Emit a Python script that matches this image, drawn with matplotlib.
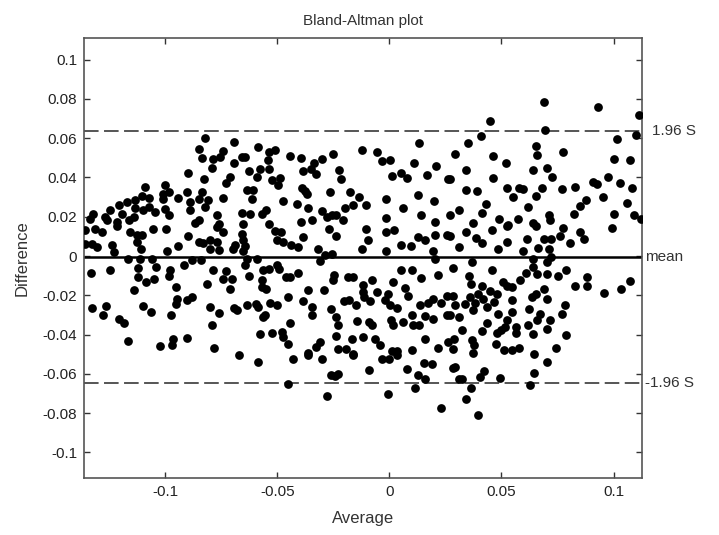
import matplotlib
matplotlib.use('Agg')
import matplotlib.pyplot as plt
import numpy as np

plt.rcParams['font.family'] = ['Liberation Sans', 'DejaVu Sans']

# (average, difference) pairs, grouped by region
upper_left = [
    (-0.0822, 0.0600), (-0.0695, 0.0580), (-0.0851, 0.0546), (-0.0584, 0.0555), (-0.0740, 0.0534),
    (-0.0837, 0.0500), (-0.0785, 0.0495), (-0.0755, 0.0504), (-0.0658, 0.0504), (-0.0643, 0.0504),
    (-0.0695, 0.0473), (-0.0792, 0.0448), (-0.0577, 0.0444), (-0.0624, 0.0431), (-0.0896, 0.0422),
    (-0.0710, 0.0402), (-0.0591, 0.0402), (-0.0826, 0.0390), (-0.0728, 0.0371), (-0.1089, 0.0351),
    (-0.1000, 0.0360), (-0.1010, 0.0317), (-0.0981, 0.0326), (-0.0903, 0.0326), (-0.0941, 0.0297),
    (-0.1008, 0.0292), (-0.0837, 0.0326), (-0.0851, 0.0292), (-0.0807, 0.0287), (-0.0740, 0.0297),
    (-0.0636, 0.0337), (-0.0609, 0.0334), (-0.0614, 0.0292), (-0.1104, 0.0304), (-0.1074, 0.0297),
    (-0.1134, 0.0287), (-0.1171, 0.0275), (-0.1208, 0.0258), (-0.1245, 0.0236), (-0.1320, 0.0212),
    (-0.1334, 0.0190), (-0.1268, 0.0198), (-0.1193, 0.0215), (-0.1134, 0.0246), (-0.1097, 0.0236),
    (-0.1074, 0.0249), (-0.1045, 0.0224), (-0.1000, 0.0241), (-0.0985, 0.0207), (-0.0889, 0.0275),
    (-0.0889, 0.0236), (-0.0822, 0.0249), (-0.1141, 0.0198), (-0.1159, 0.0181), (-0.1216, 0.0173),
    (-0.1260, 0.0181), (-0.0851, 0.0181), (-0.0866, 0.0168), (-0.0770, 0.0207), (-0.0658, 0.0219),
    (-0.0621, 0.0215), (-0.0569, 0.0215), (-0.0651, 0.0164), (-0.0762, 0.0161),
]

upper_mid = [
    (-0.0510, 0.0541), (-0.0537, 0.0529), (-0.0540, 0.0487), (-0.0537, 0.0444), (-0.0444, 0.0507),
    (-0.0395, 0.0500), (-0.0335, 0.0473), (-0.0302, 0.0495), (-0.0250, 0.0517), (-0.0124, 0.0541),
    (-0.0057, 0.0529), (-0.0035, 0.0483), (0.0002, 0.0487), (0.0132, 0.0575), (0.0111, 0.0475),
    (0.0210, 0.0458), (-0.0384, 0.0432), (-0.0350, 0.0444), (-0.0325, 0.0419), (-0.0225, 0.0439),
    (-0.0216, 0.0393), (-0.0522, 0.0388), (-0.0488, 0.0398), (-0.0496, 0.0360), (0.0010, 0.0405),
    (0.0051, 0.0424), (0.0077, 0.0397), (0.0170, 0.0410), (0.0262, 0.0390), (-0.0389, 0.0348),
    (-0.0369, 0.0317), (-0.0377, 0.0331), (-0.0265, 0.0326), (-0.0176, 0.0326), (-0.0136, 0.0300),
    (-0.0473, 0.0280), (-0.0414, 0.0266), (-0.0362, 0.0246), (-0.0299, 0.0229), (-0.0198, 0.0246),
    (-0.0161, 0.0258), (-0.0102, 0.0258), (-0.0017, 0.0292), (0.0126, 0.0312), (0.0200, 0.0280),
    (0.0062, 0.0246), (-0.0548, 0.0232), (-0.0280, 0.0198), (-0.0258, 0.0207), (-0.0236, 0.0207),
    (-0.0206, 0.0185), (-0.0347, 0.0185), (-0.0395, 0.0173), (-0.0537, 0.0164), (-0.0017, 0.0195),
    (0.0143, 0.0207), (0.0203, 0.0173),
]

upper_right = [
    (0.0691, 0.0784), (0.0931, 0.0759), (0.1114, 0.0720), (0.0448, 0.0686), (0.0694, 0.0640),
    (0.0407, 0.0611), (0.1102, 0.0614), (0.1016, 0.0594), (0.0352, 0.0575), (0.0292, 0.0521),
    (0.0656, 0.0560), (0.0659, 0.0516), (0.0775, 0.0528), (0.0460, 0.0508), (0.0520, 0.0475),
    (0.1003, 0.0494), (0.1075, 0.0491), (0.0344, 0.0436), (0.0639, 0.0440), (0.0705, 0.0450),
    (0.0726, 0.0402), (0.0463, 0.0397), (0.0270, 0.0391), (0.0909, 0.0377), (0.0924, 0.0365),
    (0.0976, 0.0402), (0.1028, 0.0372), (0.0341, 0.0338), (0.0392, 0.0331), (0.0523, 0.0345),
    (0.0552, 0.0301), (0.0578, 0.0346), (0.0594, 0.0340), (0.0679, 0.0346), (0.0653, 0.0306),
    (0.0771, 0.0340), (0.0827, 0.0352), (0.0879, 0.0284), (0.0850, 0.0253), (0.0954, 0.0301),
    (0.1084, 0.0346), (0.1058, 0.0272), (0.0430, 0.0267), (0.0619, 0.0250), (0.0312, 0.0233),
    (0.0270, 0.0211), (0.0414, 0.0219), (0.0374, 0.0168), (0.0490, 0.0187), (0.0575, 0.0187),
    (0.0530, 0.0160), (0.0713, 0.0207), (0.0716, 0.0185), (0.0639, 0.0168), (0.0823, 0.0212),
    (0.1003, 0.0212), (0.1090, 0.0207), (0.1124, 0.0190),
]

lower_left = [
    (-0.1357, 0.0131), (-0.1312, 0.0139), (-0.1282, 0.0122), (-0.1216, 0.0153), (-0.1156, 0.0122),
    (-0.1126, 0.0109), (-0.1104, 0.0105), (-0.1055, 0.0139), (-0.0998, 0.0139), (-0.1357, 0.0063),
    (-0.1327, 0.0063), (-0.1305, 0.0046), (-0.1238, 0.0054), (-0.1230, 0.0020), (-0.1126, 0.0071),
    (-0.1109, 0.0037), (-0.0993, 0.0024), (-0.0941, 0.0051), (-0.0896, 0.0102), (-0.0851, 0.0071),
    (-0.0829, 0.0068), (-0.0799, 0.0080), (-0.0802, 0.0037), (-0.0770, 0.0071), (-0.0762, 0.0029),
    (-0.0740, 0.0122), (-0.0767, 0.0148), (-0.0698, 0.0037), (-0.0688, 0.0054), (-0.0658, 0.0114),
    (-0.0651, 0.0080), (-0.0643, 0.0051), (-0.0654, 0.0024), (-0.1164, -0.0014), (-0.1112, -0.0014),
    (-0.1060, -0.0014), (-0.0636, -0.0014), (-0.0591, -0.0014), (-0.1123, -0.0061), (-0.1040, -0.0056),
    (-0.1330, -0.0087), (-0.1245, -0.0073), (-0.1123, -0.0107), (-0.1085, -0.0132), (-0.1049, -0.0119),
    (-0.0978, -0.0073), (-0.0981, -0.0102), (-0.0918, -0.0044), (-0.0881, -0.0022), (-0.0841, -0.0022),
    (-0.0785, -0.0073), (-0.0728, -0.0078), (-0.0740, -0.0115), (-0.0703, -0.0115), (-0.0710, -0.0166),
    (-0.0814, -0.0141), (-0.0643, -0.0044), (-0.0624, -0.0102), (-0.0562, -0.0073), (-0.0569, -0.0124),
    (-0.0569, -0.0158), (-0.1141, -0.0171), (-0.0951, -0.0158), (-0.0948, -0.0220), (-0.0951, -0.0243),
    (-0.0901, -0.0226), (-0.0881, -0.0209), (-0.1327, -0.0265), (-0.1263, -0.0256), (-0.1275, -0.0302),
    (-0.1208, -0.0322), (-0.1183, -0.0339), (-0.1097, -0.0256), (-0.1062, -0.0285), (-0.0975, -0.0299),
    (-0.0802, -0.0260), (-0.0758, -0.0290), (-0.0792, -0.0349), (-0.0695, -0.0265), (-0.0678, -0.0277),
    (-0.0636, -0.0251), (-0.0594, -0.0243), (-0.0584, -0.0260), (-0.0565, -0.0310), (-0.1164, -0.0434),
    (-0.1022, -0.0460), (-0.0970, -0.0451), (-0.0963, -0.0421), (-0.0901, -0.0416), (-0.0782, -0.0468),
    (-0.0669, -0.0502), (-0.0584, -0.0539), (-0.0579, -0.0395),
]

lower_mid = [
    (-0.0510, 0.0125), (-0.0484, 0.0122), (-0.0499, 0.0080), (-0.0473, 0.0071), (-0.0439, 0.0054),
    (-0.0406, 0.0046), (-0.0384, 0.0097), (-0.0270, 0.0139), (-0.0236, 0.0102), (-0.0102, 0.0139),
    (-0.0097, 0.0080), (-0.0121, 0.0037), (-0.0013, 0.0122), (0.0022, 0.0131), (-0.0017, 0.0024),
    (0.0051, 0.0058), (0.0096, 0.0051), (0.0129, 0.0097), (0.0158, 0.0080), (0.0203, 0.0105),
    (0.0259, 0.0105), (0.0195, 0.0024), (0.0203, -0.0014), (-0.0317, 0.0037), (-0.0288, 0.0007),
    (-0.0258, 0.0012), (-0.0310, -0.0027), (-0.0537, -0.0064), (-0.0503, -0.0048), (-0.0493, -0.0064),
    (-0.0463, -0.0107), (-0.0444, -0.0107), (-0.0409, -0.0087), (-0.0246, -0.0095), (-0.0250, -0.0124),
    (-0.0186, -0.0107), (-0.0161, -0.0107), (-0.0077, -0.0124), (0.0054, -0.0073), (0.0099, -0.0073),
    (0.0143, -0.0112), (0.0218, -0.0095), (-0.0548, -0.0166), (-0.0362, -0.0175), (-0.0290, -0.0175),
    (-0.0117, -0.0149), (-0.0117, -0.0183), (-0.0112, -0.0209), (-0.0057, -0.0183), (0.0017, -0.0132),
    (0.0069, -0.0163), (-0.0005, -0.0192), (0.0081, -0.0204), (-0.0020, -0.0226), (-0.0454, -0.0209),
    (-0.0533, -0.0238), (-0.0499, -0.0248), (-0.0384, -0.0231), (-0.0347, -0.0260), (-0.0261, -0.0268),
    (-0.0201, -0.0231), (-0.0180, -0.0226), (-0.0151, -0.0251), (-0.0087, -0.0231), (0.0002, -0.0248),
    (0.0032, -0.0265), (0.0136, -0.0248), (0.0173, -0.0238), (0.0195, -0.0221), (0.0229, -0.0238),
    (0.0259, -0.0204), (-0.0555, -0.0302), (-0.0344, -0.0302), (-0.0240, -0.0310), (-0.0444, -0.0339),
    (-0.0231, -0.0353), (-0.0146, -0.0332), (-0.0091, -0.0336), (-0.0077, -0.0353), (0.0007, -0.0327),
    (0.0017, -0.0349), (0.0062, -0.0336), (0.0099, -0.0299), (0.0106, -0.0353), (0.0132, -0.0349),
    (0.0158, -0.0305), (0.0195, -0.0322), (0.0259, -0.0299), (-0.0525, -0.0390), (-0.0481, -0.0387),
    (-0.0473, -0.0412), (-0.0451, -0.0446), (-0.0236, -0.0407), (-0.0166, -0.0421), (-0.0117, -0.0412),
    (-0.0065, -0.0421), (-0.0042, -0.0451), (-0.0310, -0.0438), (-0.0325, -0.0463), (-0.0362, -0.0492),
    (-0.0231, -0.0471), (-0.0195, -0.0471), (-0.0161, -0.0497), (0.0158, -0.0421), (0.0218, -0.0468),
    (0.0010, -0.0485), (0.0032, -0.0485), (0.0099, -0.0480), (0.0262, -0.0438),
    (-0.0429, -0.0525), (-0.0362, -0.0505), (-0.0302, -0.0525), (-0.0161, -0.0505), (-0.0035, -0.0525),
    (-0.0002, -0.0525), (0.0032, -0.0505), (-0.0261, -0.0607), (-0.0243, -0.0610), (-0.0228, -0.0603),
    (-0.0091, -0.0581), (0.0077, -0.0573), (0.0155, -0.0542), (0.0188, -0.0552), (0.0129, -0.0607),
    (0.0161, -0.0627), (0.0285, -0.0568), (-0.0451, -0.0653), (-0.0280, -0.0712), (-0.0005, -0.0700),
    (0.0114, -0.0671), (0.0230, -0.0773),
]

lower_right = [
    (0.0341, 0.0122), (0.0456, 0.0131), (0.0526, 0.0153), (0.0653, 0.0153), (0.0775, 0.0142),
    (0.0850, 0.0122), (0.0867, 0.0088), (0.0995, 0.0142), (0.0270, 0.0102), (0.0386, 0.0092),
    (0.0411, 0.0068), (0.0312, 0.0046), (0.0485, 0.0037), (0.0523, 0.0071), (0.0615, 0.0088),
    (0.0689, 0.0085), (0.0723, 0.0085), (0.0763, 0.0102), (0.0805, 0.0068), (0.0664, 0.0041),
    (0.0713, 0.0034), (0.0597, 0.0024), (0.0639, -0.0014), (0.0723, -0.0005), (0.0704, -0.0031),
    (0.0367, -0.0031), (0.0282, -0.0061), (0.0456, -0.0073), (0.0642, -0.0056), (0.0659, -0.0090),
    (0.0701, -0.0090), (0.0753, -0.0102), (0.0787, -0.0073), (0.0882, -0.0107), (0.0882, -0.0153),
    (0.0827, -0.0153), (0.0957, -0.0187), (0.1035, -0.0170), (0.1072, -0.0129), (0.0356, -0.0102),
    (0.0362, -0.0141), (0.0411, -0.0153), (0.0505, -0.0132), (0.0523, -0.0153), (0.0549, -0.0158),
    (0.0582, -0.0124), (0.0609, -0.0085), (0.0689, -0.0166), (0.0448, -0.0180), (0.0478, -0.0192),
    (0.0396, -0.0192), (0.0359, -0.0209), (0.0381, -0.0238), (0.0337, -0.0243), (0.0419, -0.0217),
    (0.0466, -0.0234), (0.0436, -0.0260), (0.0549, -0.0226), (0.0634, -0.0209), (0.0653, -0.0192),
    (0.0701, -0.0217), (0.0292, -0.0248), (0.0374, -0.0277), (0.0270, -0.0299), (0.0312, -0.0310),
    (0.0485, -0.0293), (0.0545, -0.0285), (0.0624, -0.0271), (0.0783, -0.0251), (0.0772, -0.0293),
    (0.0674, -0.0293), (0.0659, -0.0327), (0.0716, -0.0327), (0.0436, -0.0339), (0.0526, -0.0327),
    (0.0515, -0.0361), (0.0619, -0.0349), (0.0564, -0.0361), (0.0326, -0.0378), (0.0411, -0.0383),
    (0.0500, -0.0378), (0.0481, -0.0390), (0.0564, -0.0390), (0.0642, -0.0395), (0.0701, -0.0370),
    (0.0790, -0.0400), (0.0288, -0.0421), (0.0367, -0.0429), (0.0377, -0.0451), (0.0475, -0.0446),
    (0.0511, -0.0480), (0.0545, -0.0480), (0.0579, -0.0468), (0.0742, -0.0468), (0.0282, -0.0471),
    (0.0374, -0.0492), (0.0644, -0.0497), (0.0282, -0.0204),
    (0.0292, -0.0564), (0.0310, -0.0627), (0.0325, -0.0624), (0.0423, -0.0586), (0.0403, -0.0615),
    (0.0366, -0.0671), (0.0340, -0.0729), (0.0396, -0.0810), (0.0493, -0.0620), (0.0644, -0.0593),
    (0.0626, -0.0654), (0.0705, -0.0539),
]

mean_diff = -0.0005
limit_half = 0.0639

x_ticks = [-0.1, -0.05, 0, 0.05, 0.1]
x_tick_labels = ['-0.1', '-0.05', '0', '0.05', '0.1']
y_ticks = [0.1, 0.08, 0.06, 0.04, 0.02, 0, -0.02, -0.04, -0.06, -0.08, -0.1]
y_tick_labels = ['0.1', '0.08', '0.06', '0.04', '0.02', '0',
                 '-0.02', '-0.04', '-0.06', '-0.08', '-0.1']

points = np.array(upper_left + upper_mid + upper_right + lower_left + lower_mid + lower_right)
average, difference = points[:, 0], points[:, 1]

fig = plt.figure(figsize=(7.19, 5.35), dpi=100)
ax = fig.add_axes([0.1168, 0.1065, 0.7765, 0.8225])

ax.plot(average, difference, 'o', color='black', ms=6.3, mew=0, zorder=3)
ax.axhline(mean_diff, color='black', lw=1.8, zorder=2)
for level in (mean_diff + limit_half, mean_diff - limit_half):
    ax.axhline(level, color='#555555', lw=1.4, dashes=(7.5, 2.8), zorder=2)

ax.set_xlim(-0.1362, 0.1128)
ax.set_ylim(-0.113, 0.111)
ax.set_xticks(x_ticks)
ax.set_xticklabels(x_tick_labels)
ax.set_yticks(y_ticks)
ax.set_yticklabels(y_tick_labels)
ax.tick_params(direction='in', length=4, width=1, top=True, right=True,
               labelsize=11, colors='#333333', labelcolor='#222222', pad=5)
for spine in ax.spines.values():
    spine.set_color('#555555')
    spine.set_linewidth(1.2)

trans = ax.get_yaxis_transform()
ax.text(1.018, mean_diff + limit_half, '1.96 S', transform=trans, va='center', ha='left',
        fontsize=11, color='#333333')
ax.text(1.005, mean_diff, 'mean', transform=trans, va='center', ha='left',
        fontsize=11, color='#333333')
ax.text(1.005, mean_diff - limit_half, '-1.96 S', transform=trans, va='center', ha='left',
        fontsize=11, color='#333333')

ax.set_title('Bland-Altman plot', fontsize=11, color='#333333', pad=9)
ax.set_xlabel('Average', fontsize=12, color='#333333', labelpad=9)
ax.set_ylabel('Difference', fontsize=12, color='#333333', labelpad=9)

fig.savefig('out.png', dpi=100)
